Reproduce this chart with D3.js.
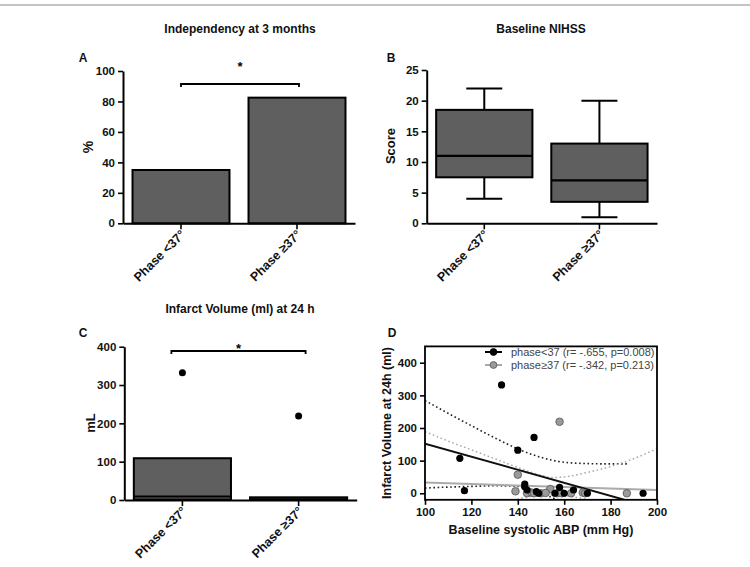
<!DOCTYPE html>
<html><head><meta charset="utf-8">
<script src="https://cdn.jsdelivr.net/npm/d3@7"></script>
<style>
body{margin:0;background:#fff;}
svg text{font-family:"Liberation Sans",Arial,sans-serif;}
</style></head>
<body><svg id="c" width="750" height="567"></svg>
<script>
// ---------- DATA ----------
const categories = ["Phase <37°", "Phase ≥37°"];
// Panel A: independency (%)
const independencyPct = [35, 82.5];
const aTicks = [0, 20, 40, 60, 80, 100];
// Panel B: baseline NIHSS box plot [min, q1, median, q3, max]
const nihssMin = [4, 1];
const nihssQ1 = [7.5, 3.5];
const nihssMedian = [11, 7];
const nihssQ3 = [18.5, 13];
const nihssMax = [22, 20];
const bTicks = [0, 5, 10, 15, 20, 25];
// Panel C: infarct volume box plot
const volQ1 = [1, 0];
const volMedian = [9, 2];
const volQ3 = [109, 7];
const volOutliers = [[332], [219]];
const cTicks = [0, 100, 200, 300, 400];
// Panel D: scatter (baseline systolic ABP, infarct volume)
const sbpLow = [115, 117, 133, 140, 147, 143, 143, 144, 148, 149, 156, 158, 160, 164, 170, 194];
const volLow = [107, 8, 332, 132, 171, 28, 20, 10, 5, 0, 0, 18, 0, 10, 0, 0];
const sbpHigh = [140, 139, 144, 146, 147, 150, 154, 157, 158, 159, 163, 168, 169, 187, 152];
const volHigh = [57, 6, 0, 2, 0, 0, 13, 0, 219, 0, 0, 2, 0, 0, 1];
// regression lines
const fitLowX = [100, 200], fitLowY = [152, -48];
const fitHighX = [100, 200], fitHighY = [33, 10];
// confidence bands
const ciLowUpX = [100, 110, 120, 130, 140, 150, 160, 170, 180, 188];
const ciLowUpY = [284, 245, 207, 170, 136, 110, 95, 91, 90, 90];
const ciLowDnX = [100, 110, 120, 130, 140, 145, 150, 155, 160];
const ciLowDnY = [16, 19, 21, 23, 21, 13, 0, -14, -28];
const ciHighUpX = [100, 110, 120, 130, 140, 150, 155, 160, 170, 180, 190, 200];
const ciHighUpY = [189, 160, 133, 106, 79, 55, 48, 50, 64, 82, 106, 137];
const ciHighDnX = [138, 145, 150, 155, 160, 165, 172];
const ciHighDnY = [-22, -10, -6, -5, -7, -12, -22];
const dXTicks = [100, 120, 140, 160, 180, 200];
const dYTicks = [0, 100, 200, 300, 400];
const legendLabels = ["phase<37 (r= -.655, p=0.008)", "phase≥37 (r= -.342, p=0.213)"];
const titles = ["Independency at 3 months", "Baseline NIHSS", "Infarct Volume (ml) at 24 h"];

// ---------- DRAW ----------
const svg = d3.select("#c");
const FILL = "#5f5f5f";
svg.append("line").attr("x1",0).attr("x2",750).attr("y1",5).attr("y2",5)
  .attr("stroke","#8a8a8a").attr("stroke-width",1.2);

function title(t, x, y){
  svg.append("text").attr("x",x).attr("y",y).attr("text-anchor","middle")
    .attr("font-size",12).attr("font-weight","bold").attr("fill","#111").text(t);
}
function letter(t, x, y){
  svg.append("text").attr("x",x).attr("y",y).attr("text-anchor","middle")
    .attr("font-size",12).attr("font-weight","bold").attr("fill","#111").text(t);
}
function yLabel(t, x, y, size){
  svg.append("text").attr("transform",`translate(${x},${y}) rotate(-90)`)
    .attr("text-anchor","middle").attr("font-size",size||12).attr("font-weight","bold").attr("fill","#111").text(t);
}
function yAxis(y, x0, ticks){
  const g = svg.append("g").attr("transform",`translate(${x0},0)`)
    .call(d3.axisLeft(y).tickValues(ticks).tickSize(5).tickPadding(3).tickSizeOuter(0));
  g.select(".domain").attr("stroke","#000").attr("stroke-width",2);
  g.selectAll(".tick line").attr("stroke","#000").attr("stroke-width",1.6);
  g.selectAll(".tick text").attr("font-size",11.5).attr("font-weight","bold").attr("fill","#111")
    .style("font-family","Liberation Sans, Arial, sans-serif");
  return g;
}
function xCatAxis(x, y0){
  const g = svg.append("g").attr("transform",`translate(0,${y0})`)
    .call(d3.axisBottom(x).tickSize(6).tickSizeOuter(0));
  g.select(".domain").attr("stroke","#000").attr("stroke-width",2);
  g.selectAll(".tick line").attr("stroke","#000").attr("stroke-width",1.6);
  g.selectAll(".tick text").attr("font-size",12.5).attr("font-weight","bold").attr("fill","#111")
    .style("font-family","Liberation Sans, Arial, sans-serif")
    .attr("text-anchor","end").attr("dy",0).attr("y",0)
    .attr("transform","translate(5,12) rotate(-45)");
  return g;
}
function bracket(x1, x2, y, yStar){
  svg.append("path").attr("d",`M${x1},${y+3}V${y}H${x2}V${y+3}`)
    .attr("fill","none").attr("stroke","#000").attr("stroke-width",1.8);
  svg.append("text").attr("x",(x1+x2)/2).attr("y",yStar).attr("text-anchor","middle")
    .attr("font-size",13).attr("font-weight","bold").attr("fill","#000").text("*");
}

// ----- Panel A -----
{
  const x = d3.scaleBand().domain(categories).range([123,355]).paddingInner(0.164).paddingOuter(0.082);
  const y = d3.scaleLinear().domain([0,100]).range([223.3,71]);
  title(titles[0], 240, 33);
  letter("A", 83, 62);
  svg.selectAll(".barA").data(categories).join("rect")
    .attr("x",d=>x(d)).attr("width",x.bandwidth())
    .attr("y",(d,i)=>y(independencyPct[i])).attr("height",(d,i)=>y(0)-y(independencyPct[i]))
    .attr("fill",FILL).attr("stroke","#000").attr("stroke-width",2);
  yAxis(y, 123, aTicks);
  xCatAxis(x, 223.3);
  yLabel("%", 93, 147, 14);
  bracket(x(categories[0])+x.bandwidth()/2, x(categories[1])+x.bandwidth()/2+2, 84, 71);
}

// ----- Panel B -----
{
  const x = d3.scaleBand().domain(categories).range([426.7,657]).paddingInner(0.164).paddingOuter(0.082);
  const y = d3.scaleLinear().domain([0,25]).range([223.3,70]);
  title(titles[1], 541, 33);
  letter("B", 391, 62);
  categories.forEach((c,i)=>{
    const cx = x(c)+x.bandwidth()/2, cap = 18;
    const g = svg.append("g");
    g.append("line").attr("x1",cx).attr("x2",cx).attr("y1",y(nihssMax[i])).attr("y2",y(nihssQ3[i])).attr("stroke","#000").attr("stroke-width",2);
    g.append("line").attr("x1",cx).attr("x2",cx).attr("y1",y(nihssMin[i])).attr("y2",y(nihssQ1[i])).attr("stroke","#000").attr("stroke-width",2);
    g.append("line").attr("x1",cx-cap).attr("x2",cx+cap).attr("y1",y(nihssMax[i])).attr("y2",y(nihssMax[i])).attr("stroke","#000").attr("stroke-width",2);
    g.append("line").attr("x1",cx-cap).attr("x2",cx+cap).attr("y1",y(nihssMin[i])).attr("y2",y(nihssMin[i])).attr("stroke","#000").attr("stroke-width",2);
    g.append("rect").attr("x",x(c)).attr("width",x.bandwidth()).attr("y",y(nihssQ3[i])).attr("height",y(nihssQ1[i])-y(nihssQ3[i]))
      .attr("fill",FILL).attr("stroke","#000").attr("stroke-width",2);
    g.append("line").attr("x1",x(c)).attr("x2",x(c)+x.bandwidth()).attr("y1",y(nihssMedian[i])).attr("y2",y(nihssMedian[i])).attr("stroke","#000").attr("stroke-width",2.2);
  });
  yAxis(y, 426.7, bTicks);
  xCatAxis(x, 223.3);
  yLabel("Score", 395, 146, 13);
}

// ----- Panel C -----
{
  const x = d3.scaleBand().domain(categories).range([124.3,356.7]).paddingInner(0.164).paddingOuter(0.082);
  const y = d3.scaleLinear().domain([0,400]).range([500,346.7]);
  title(titles[2], 240, 313);
  letter("C", 83, 337);
  categories.forEach((c,i)=>{
    const g = svg.append("g");
    g.append("rect").attr("x",x(c)).attr("width",x.bandwidth()).attr("y",y(volQ3[i])).attr("height",y(volQ1[i])-y(volQ3[i]))
      .attr("fill",FILL).attr("stroke","#000").attr("stroke-width",2);
    g.append("line").attr("x1",x(c)).attr("x2",x(c)+x.bandwidth()).attr("y1",y(volMedian[i])).attr("y2",y(volMedian[i])).attr("stroke","#000").attr("stroke-width",2);
    volOutliers[i].forEach(v=>{
      g.append("circle").attr("cx",x(c)+x.bandwidth()/2).attr("cy",y(v)).attr("r",3.5).attr("fill","#000");
    });
  });
  yAxis(y, 124.3, cTicks);
  xCatAxis(x, 500);
  yLabel("mL", 95, 423, 13);
  bracket(x(categories[0])+x.bandwidth()/2-11, x(categories[1])+x.bandwidth()/2+7, 351, 353);
}

// ----- Panel D -----
{
  const x = d3.scaleLinear().domain([100,200]).range([425,657]);
  const y = d3.scaleLinear().domain([-20,450]).range([499.8,346.4]);
  letter("D", 392, 337);
  svg.append("defs").append("clipPath").attr("id","clipD").append("rect")
    .attr("x",425).attr("y",346.4).attr("width",232).attr("height",153.4);
  const plot = svg.append("g").attr("clip-path","url(#clipD)");
  const line = (xs, ys) => d3.line().curve(d3.curveMonotoneX)(xs.map((v,i)=>[x(v), y(ys[i])]));
  plot.append("path").attr("d",line(ciLowUpX,ciLowUpY)).attr("fill","none").attr("stroke","#222").attr("stroke-width",1.6).attr("stroke-dasharray","1.6,2.6");
  plot.append("path").attr("d",line(ciLowDnX,ciLowDnY)).attr("fill","none").attr("stroke","#222").attr("stroke-width",1.6).attr("stroke-dasharray","1.6,2.6");
  plot.append("path").attr("d",line(ciHighUpX,ciHighUpY)).attr("fill","none").attr("stroke","#aaa").attr("stroke-width",1.5).attr("stroke-dasharray","1.6,2.6");
  plot.append("path").attr("d",line(ciHighDnX,ciHighDnY)).attr("fill","none").attr("stroke","#aaa").attr("stroke-width",1.5).attr("stroke-dasharray","1.6,2.6");
  plot.append("path").attr("d",line(fitHighX,fitHighY)).attr("fill","none").attr("stroke","#aaa").attr("stroke-width",2);
  plot.append("path").attr("d",line(fitLowX,fitLowY)).attr("fill","none").attr("stroke","#111").attr("stroke-width",2);
  plot.selectAll(".ph").data(sbpHigh).join("circle")
    .attr("cx",d=>x(d)).attr("cy",(d,i)=>y(volHigh[i])).attr("r",3.8)
    .attr("fill","#9a9a9a").attr("stroke","#555").attr("stroke-width",0.8);
  plot.selectAll(".pl").data(sbpLow).join("circle")
    .attr("cx",d=>x(d)).attr("cy",(d,i)=>y(volLow[i])).attr("r",3.6).attr("fill","#000");
  svg.append("rect").attr("x",425).attr("y",346.4).attr("width",232).attr("height",153.4)
    .attr("fill","none").attr("stroke","#000").attr("stroke-width",1.8);
  const gy = svg.append("g").attr("transform","translate(425,0)")
    .call(d3.axisLeft(y).tickValues(dYTicks).tickSize(5).tickPadding(3).tickSizeOuter(0));
  gy.select(".domain").remove();
  gy.selectAll(".tick line").attr("stroke","#000").attr("stroke-width",1.6);
  gy.selectAll(".tick text").attr("font-size",11.5).attr("font-weight","bold").attr("fill","#111");
  const gx = svg.append("g").attr("transform","translate(0,499.8)")
    .call(d3.axisBottom(x).tickValues(dXTicks).tickSize(5).tickPadding(3).tickSizeOuter(0));
  gx.select(".domain").remove();
  gx.selectAll(".tick line").attr("stroke","#000").attr("stroke-width",1.6);
  gx.selectAll(".tick text").attr("font-size",11.5).attr("font-weight","bold").attr("fill","#111");
  svg.append("text").attr("x",541).attr("y",534).attr("text-anchor","middle")
    .attr("font-size",12.5).attr("font-weight","bold").attr("fill","#111").text("Baseline systolic ABP (mm Hg)");
  yLabel("Infarct Volume at 24h (ml)", 391, 423, 12.5);
  // legend
  const lg = svg.append("g");
  [[352,"#000","#000","#000"],[365,"#9a9a9a","#555","#aaa"]].forEach((s,i)=>{
    lg.append("line").attr("x1",485).attr("x2",502).attr("y1",s[0]).attr("y2",s[0]).attr("stroke",s[3]).attr("stroke-width",2);
    lg.append("circle").attr("cx",493.5).attr("cy",s[0]).attr("r",3.4).attr("fill",s[1]).attr("stroke",s[2]).attr("stroke-width",0.8);
    lg.append("text").attr("x",511).attr("y",s[0]+4).attr("font-size",11).attr("fill","#444").text(legendLabels[i]);
  });
}
</script></body></html>
